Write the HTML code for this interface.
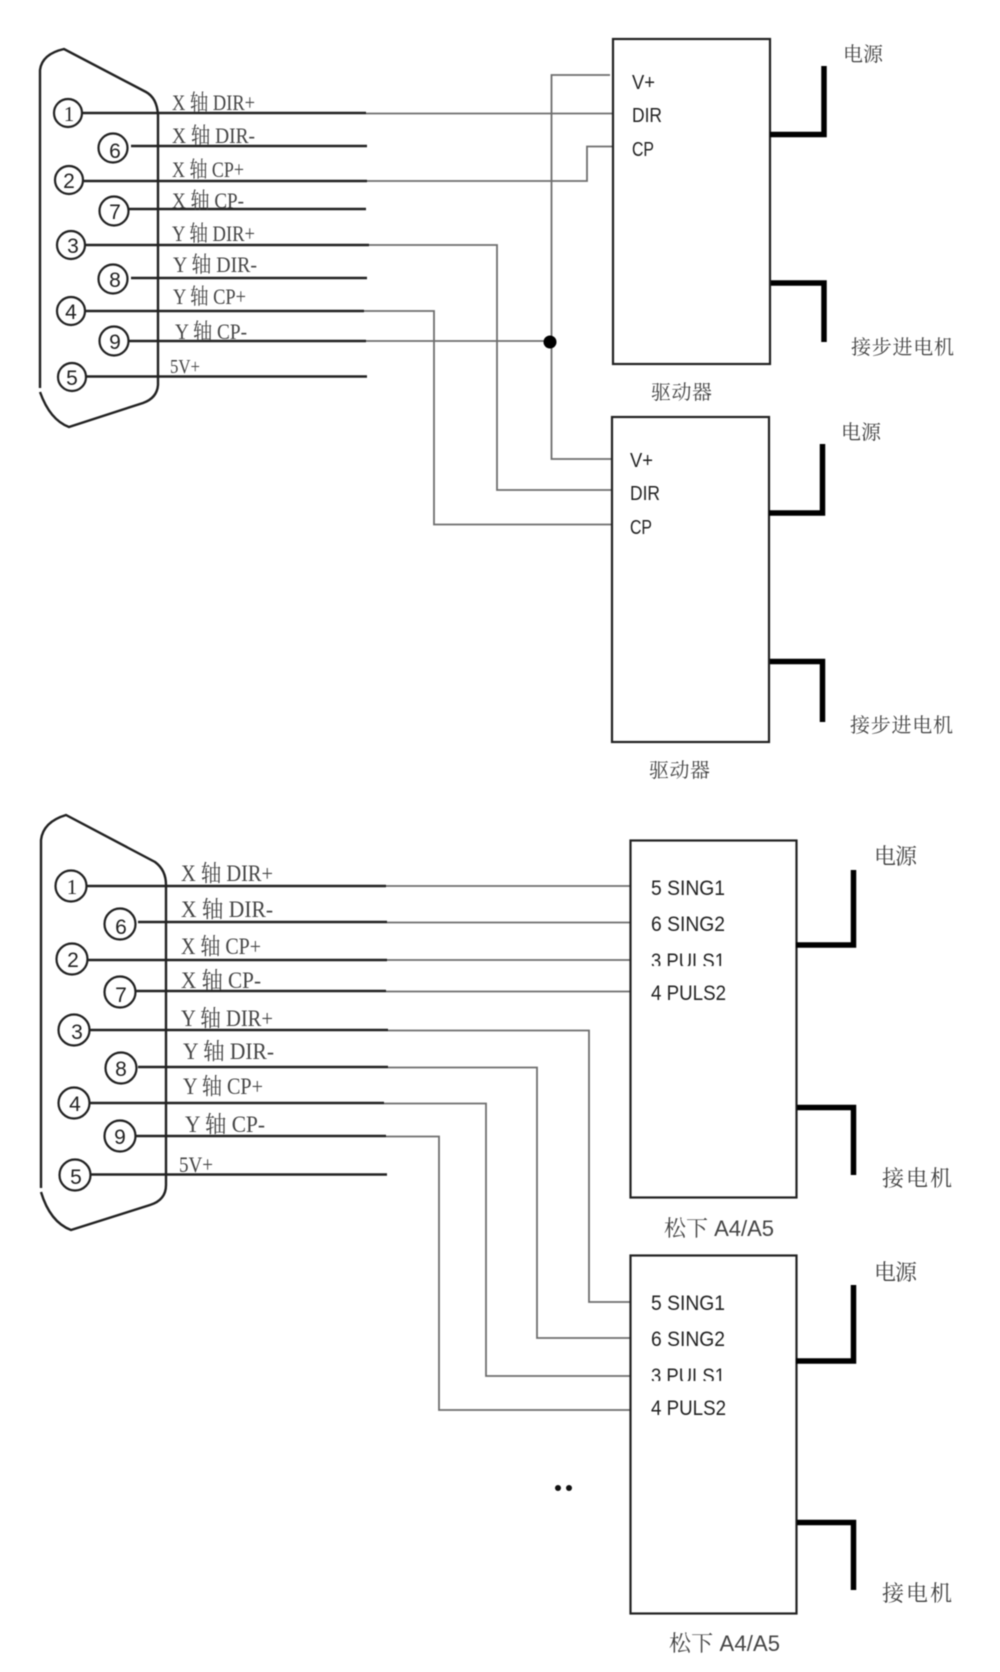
<!DOCTYPE html>
<html><head><meta charset="utf-8"><style>
html,body{margin:0;padding:0;background:#fff;width:1000px;height:1672px;overflow:hidden}
svg{display:block;filter:blur(0.45px)}
.s{font-family:"Liberation Serif","Noto Serif CJK SC",serif;font-size:22px;fill:#444}
.n{font-family:"Liberation Sans",sans-serif;font-size:21px;fill:#222;text-anchor:middle}
.a{font-family:"Liberation Sans",sans-serif;font-size:20px;fill:#222}
.c{font-family:"Liberation Sans","Noto Serif CJK SC",serif;font-size:20px;fill:#444}
.k{fill:none;stroke:#222;stroke-width:2.4}
.g{fill:none;stroke:#6e6e6e;stroke-width:1.8}
.b{fill:none;stroke:#222;stroke-width:2.2}
.t{fill:none;stroke:#000;stroke-width:5.5}
.p{fill:#fff;stroke:#222;stroke-width:2.2}
</style></head><body>
<svg width="1000" height="1672" viewBox="0 0 1000 1672" xmlns="http://www.w3.org/2000/svg">
<rect width="1000" height="1672" fill="#fff"/>

<!-- top connector -->
<path class="k" d="M40,388V70Q42,54 64,49L146,92Q157,98 158,115V385Q157,398 143,403L69,427Q50,420 40,392"/>
<g class="g">
<path d="M366,113.5H613"/>
<path d="M367,181H587V146.5H612"/>
<path d="M369,245H497V490H612"/>
<path d="M364,311H434V524.5H612"/>
<path d="M366,341H550"/>
<path d="M610,75H551.5V459H612"/>
</g>
<circle cx="550" cy="342" r="6.5" fill="#000"/>
<g class="k">
<path d="M83,113H366"/><path d="M131,146H367"/><path d="M84,181H367"/><path d="M129,209H366"/>
<path d="M86,245H369"/><path d="M131,278H367"/><path d="M86,311H364"/><path d="M129,341H366"/><path d="M86,376.5H367"/>
</g>
<g class="p">
<circle cx="68" cy="113" r="14"/><circle cx="113" cy="148" r="14.5"/><circle cx="69" cy="180" r="14"/>
<circle cx="114" cy="211" r="14.5"/><circle cx="71" cy="245" r="14"/><circle cx="113" cy="279" r="14.5"/>
<circle cx="71" cy="311" r="14"/><circle cx="114" cy="341" r="14.5"/><circle cx="72" cy="377" r="14"/>
</g>
<g class="n">
<text x="69" y="121" font-family="Liberation Serif">1</text><text x="115" y="158">6</text><text x="69" y="188">2</text>
<text x="115" y="219">7</text><text x="73" y="253">3</text><text x="115" y="287">8</text>
<text x="71" y="319">4</text><text x="115" y="349">9</text><text x="72" y="385">5</text>
</g>
<g class="s">
<text x="172" y="110" textLength="83" lengthAdjust="spacingAndGlyphs">X 轴 DIR+</text>
<text x="172" y="143" textLength="83" lengthAdjust="spacingAndGlyphs">X 轴 DIR-</text>
<text x="172" y="177" textLength="72" lengthAdjust="spacingAndGlyphs">X 轴 CP+</text>
<text x="172" y="208" textLength="72" lengthAdjust="spacingAndGlyphs">X 轴 CP-</text>
<text x="172" y="241" textLength="83" lengthAdjust="spacingAndGlyphs">Y 轴 DIR+</text>
<text x="173" y="272" textLength="84" lengthAdjust="spacingAndGlyphs">Y 轴 DIR-</text>
<text x="173" y="304" textLength="73" lengthAdjust="spacingAndGlyphs">Y 轴 CP+</text>
<text x="175" y="339" textLength="72" lengthAdjust="spacingAndGlyphs">Y 轴 CP-</text>
<text x="170" y="373" textLength="30" lengthAdjust="spacingAndGlyphs" style="font-size:20px">5V+</text>
</g>

<!-- driver boxes -->
<rect class="b" x="613" y="39" width="157" height="325"/>
<rect class="b" x="612" y="417" width="157" height="325"/>
<g class="t">
<path d="M770,134.5H824V66"/><path d="M771,283H824V342"/>
<path d="M769,513H822.5V444"/><path d="M770,661.5H822.5V722"/>
</g>
<g class="a">
<text x="632" y="89" textLength="23" lengthAdjust="spacingAndGlyphs">V+</text>
<text x="632" y="122" textLength="30" lengthAdjust="spacingAndGlyphs">DIR</text>
<text x="632" y="156" textLength="22" lengthAdjust="spacingAndGlyphs">CP</text>
<text x="630" y="467" textLength="23" lengthAdjust="spacingAndGlyphs">V+</text>
<text x="630" y="500" textLength="30" lengthAdjust="spacingAndGlyphs">DIR</text>
<text x="630" y="534" textLength="22" lengthAdjust="spacingAndGlyphs">CP</text>
</g>
<g class="c">
<text x="843" y="61" textLength="40">电源</text>
<text x="851" y="354" textLength="103">接步进电机</text>
<text x="651" y="399" textLength="61">驱动器</text>
<text x="841" y="439" textLength="40">电源</text>
<text x="850" y="732" textLength="103">接步进电机</text>
<text x="649" y="777" textLength="61">驱动器</text>
</g>

<!-- lower connector -->
<path class="k" d="M41,1188V840Q43,822 66,815L155,862Q166,870 166,885V1185Q166,1200 150,1205L71,1230Q50,1222 41,1192"/>
<g class="g">
<path d="M386,886H630"/><path d="M387,922.5H630"/><path d="M387,960H630"/><path d="M386,991.5H630"/>
<path d="M388,1030.5H589V1302H630"/>
<path d="M388,1067.5H537V1338H630"/>
<path d="M384,1103.5H486V1376H630"/>
<path d="M386,1136.5H439V1410H630"/>
</g>
<g class="k">
<path d="M87,886H386"/><path d="M138,922H387"/><path d="M88,960H387"/><path d="M135,991H386"/>
<path d="M90,1030H388"/><path d="M138,1067H388"/><path d="M90,1103H384"/><path d="M135,1136H386"/><path d="M90,1174.5H387"/>
</g>
<g class="p">
<circle cx="71" cy="886" r="15.5"/><circle cx="120" cy="924" r="15.5"/><circle cx="72" cy="959" r="15.5"/>
<circle cx="120" cy="992" r="15.5"/><circle cx="74" cy="1030" r="15.5"/><circle cx="121" cy="1068" r="15.5"/>
<circle cx="74" cy="1103" r="15.5"/><circle cx="120" cy="1136" r="15.5"/><circle cx="75" cy="1175" r="15.5"/>
</g>
<g class="n">
<text x="72" y="894" font-family="Liberation Serif">1</text><text x="121" y="934">6</text><text x="73" y="967">2</text>
<text x="121" y="1002">7</text><text x="77" y="1039">3</text><text x="121" y="1076">8</text>
<text x="75" y="1111">4</text><text x="120" y="1144">9</text><text x="76" y="1184">5</text>
</g>
<g class="s" style="font-size:23px">
<text x="181" y="881" textLength="92" lengthAdjust="spacingAndGlyphs">X 轴 DIR+</text>
<text x="181" y="917" textLength="92" lengthAdjust="spacingAndGlyphs">X 轴 DIR-</text>
<text x="181" y="954" textLength="80" lengthAdjust="spacingAndGlyphs">X 轴 CP+</text>
<text x="181" y="988" textLength="80" lengthAdjust="spacingAndGlyphs">X 轴 CP-</text>
<text x="181" y="1026" textLength="92" lengthAdjust="spacingAndGlyphs">Y 轴 DIR+</text>
<text x="183" y="1059" textLength="91" lengthAdjust="spacingAndGlyphs">Y 轴 DIR-</text>
<text x="183" y="1094" textLength="80" lengthAdjust="spacingAndGlyphs">Y 轴 CP+</text>
<text x="185" y="1132" textLength="80" lengthAdjust="spacingAndGlyphs">Y 轴 CP-</text>
<text x="179" y="1172" textLength="34" lengthAdjust="spacingAndGlyphs" style="font-size:22px">5V+</text>
</g>

<!-- panasonic boxes -->
<rect class="b" x="630.5" y="840.5" width="166" height="357"/>
<rect class="b" x="630.5" y="1255.5" width="166" height="358"/>
<g class="t">
<path d="M796,945H853.5V870"/><path d="M797,1107.5H853.5V1175"/>
<path d="M796,1361H853.5V1285"/><path d="M797,1522.5H853.5V1590"/>
</g>
<g class="a" style="font-size:21px">
<text x="651" y="895" textLength="74" lengthAdjust="spacingAndGlyphs">5 SING1</text>
<text x="651" y="931" textLength="74" lengthAdjust="spacingAndGlyphs">6 SING2</text>
<text x="651" y="968" textLength="74" lengthAdjust="spacingAndGlyphs">3 PULS1</text>
<text x="651" y="1000" textLength="75" lengthAdjust="spacingAndGlyphs">4 PULS2</text>
<text x="651" y="1310" textLength="74" lengthAdjust="spacingAndGlyphs">5 SING1</text>
<text x="651" y="1346" textLength="74" lengthAdjust="spacingAndGlyphs">6 SING2</text>
<text x="651" y="1383" textLength="74" lengthAdjust="spacingAndGlyphs">3 PULS1</text>
<text x="651" y="1415" textLength="75" lengthAdjust="spacingAndGlyphs">4 PULS2</text>
</g>
<rect x="640" y="966" width="100" height="10" fill="#fff"/>
<rect x="640" y="1381" width="100" height="9" fill="#fff"/>
<g class="c" style="font-size:22px">
<text x="874" y="864" textLength="43">电源</text>
<text x="882" y="1186" textLength="70">接电机</text>
<text x="664" y="1236" textLength="110">松下 A4/A5</text>
<text x="874" y="1280" textLength="43">电源</text>
<text x="882" y="1601" textLength="70">接电机</text>
<text x="669" y="1651" textLength="111">松下 A4/A5</text>
</g>
<circle cx="558" cy="1488" r="3" fill="#111"/><circle cx="569" cy="1488" r="3" fill="#111"/>
</svg>
</body></html>
